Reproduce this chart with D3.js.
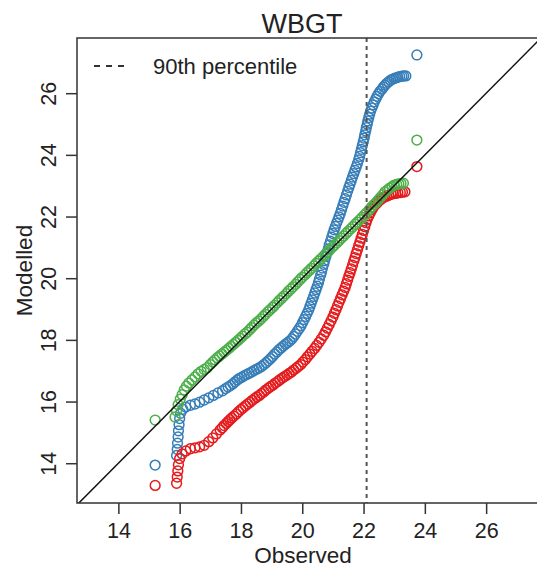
<!DOCTYPE html>
<html>
<head>
<meta charset="utf-8">
<script src="https://cdn.jsdelivr.net/npm/d3@7"></script>
<style>
  body { margin: 0; background: #fff; }
  text { font-family: "Liberation Sans", Arial, Helvetica, sans-serif; fill: #222; }
</style>
</head>
<body>
<div id="container"></div>
<script>
// Observed vs modelled quantiles
var blue = [[15.20,13.94],[15.90,14.25],[15.92,14.45],[15.93,14.65],[15.95,14.85],[15.96,15.05],[15.98,15.25],
  [16.00,15.45],[16.03,15.62],[16.10,15.75],[16.20,15.82],[16.35,15.88],[16.50,15.92],[16.65,15.98],[16.80,16.05],
  [16.95,16.12],[17.10,16.20],[17.25,16.28],[17.40,16.35],[17.50,16.42],[17.58,16.47],[17.66,16.52],[17.74,16.58],
  [17.81,16.64],[17.88,16.70],[17.95,16.75],[18.03,16.79],[18.11,16.84],[18.19,16.88],[18.27,16.92],[18.35,16.96],
  [18.43,17.01],[18.51,17.05],[18.59,17.09],[18.67,17.14],[18.75,17.20],[18.82,17.26],[18.89,17.32],[18.96,17.39],
  [19.03,17.46],[19.10,17.54],[19.17,17.61],[19.24,17.68],[19.31,17.74],[19.38,17.80],[19.45,17.86],[19.52,17.91],
  [19.59,17.96],[19.66,18.03],[19.72,18.11],[19.78,18.19],[19.84,18.28],[19.90,18.37],[19.96,18.46],[20.01,18.56],
  [20.06,18.66],[20.11,18.76],[20.16,18.86],[20.21,18.97],[20.25,19.08],[20.29,19.19],[20.33,19.30],[20.37,19.41],
  [20.41,19.52],[20.45,19.63],[20.49,19.74],[20.53,19.86],[20.56,19.97],[20.60,20.10],[20.63,20.21],[20.66,20.33],
  [20.70,20.45],[20.73,20.57],[20.77,20.70],[20.81,20.83],[20.85,20.95],[20.88,21.08],[20.92,21.20],[20.96,21.33],
  [21.00,21.45],[21.04,21.57],[21.08,21.68],[21.12,21.78],[21.16,21.88],[21.20,21.99],[21.24,22.10],[21.28,22.22],
  [21.32,22.34],[21.36,22.46],[21.40,22.58],[21.44,22.70],[21.48,22.82],[21.52,22.94],[21.56,23.05],[21.60,23.17],
  [21.64,23.28],[21.68,23.39],[21.72,23.50],[21.76,23.61],[21.80,23.72],[21.84,23.84],[21.87,23.95],[21.90,24.07],
  [21.93,24.18],[21.96,24.30],[21.99,24.42],[22.02,24.54],[22.04,24.65],[22.07,24.77],[22.09,24.88],[22.12,24.99],
  [22.14,25.10],[22.17,25.21],[22.20,25.32],[22.23,25.42],[22.27,25.52],[22.31,25.62],[22.35,25.72],[22.40,25.81],
  [22.44,25.90],[22.49,25.98],[22.54,26.06],[22.60,26.13],[22.65,26.20],[22.70,26.26],[22.76,26.32],[22.82,26.37],
  [22.88,26.42],[22.94,26.45],[23.00,26.48],[23.06,26.50],[23.12,26.52],[23.18,26.54],[23.25,26.55],[23.31,26.56],
  [23.38,26.56],[23.74,27.24]];

var red = [[15.20,13.28],[15.90,13.35],[15.92,13.55],[15.94,13.75],[15.96,13.95],[16.00,14.15],[16.08,14.30],
  [16.20,14.40],[16.35,14.47],[16.50,14.50],[16.65,14.53],[16.80,14.58],[16.95,14.70],[17.08,14.82],[17.20,14.95],
  [17.32,15.08],[17.39,15.15],[17.45,15.22],[17.52,15.29],[17.58,15.35],[17.64,15.41],[17.70,15.47],[17.77,15.53],
  [17.85,15.60],[17.92,15.67],[18.00,15.74],[18.07,15.80],[18.15,15.86],[18.22,15.92],[18.30,15.98],[18.37,16.04],
  [18.45,16.10],[18.52,16.15],[18.60,16.20],[18.67,16.26],[18.75,16.32],[18.82,16.38],[18.90,16.44],[18.97,16.49],
  [19.05,16.54],[19.12,16.60],[19.20,16.65],[19.27,16.71],[19.35,16.76],[19.42,16.81],[19.50,16.86],[19.57,16.91],
  [19.65,16.96],[19.72,17.02],[19.80,17.08],[19.87,17.14],[19.95,17.20],[20.02,17.28],[20.10,17.36],[20.17,17.45],
  [20.25,17.54],[20.32,17.63],[20.40,17.72],[20.47,17.82],[20.55,17.92],[20.62,18.03],[20.70,18.15],[20.76,18.26],
  [20.82,18.38],[20.88,18.50],[20.94,18.62],[21.00,18.74],[21.05,18.86],[21.10,18.98],[21.15,19.10],[21.20,19.22],
  [21.25,19.34],[21.30,19.46],[21.35,19.58],[21.40,19.70],[21.44,19.82],[21.48,19.94],[21.52,20.06],[21.56,20.18],
  [21.60,20.30],[21.64,20.42],[21.68,20.55],[21.72,20.67],[21.76,20.80],[21.80,20.92],[21.84,21.05],[21.88,21.17],
  [21.92,21.30],[21.96,21.42],[22.00,21.55],[22.04,21.67],[22.08,21.80],[22.12,21.91],[22.17,22.02],[22.22,22.12],
  [22.27,22.22],[22.32,22.30],[22.38,22.38],[22.44,22.44],[22.50,22.50],[22.56,22.55],[22.62,22.60],[22.68,22.63],
  [22.75,22.66],[22.82,22.69],[22.90,22.72],[22.97,22.74],[23.05,22.75],[23.12,22.77],[23.20,22.78],[23.27,22.79],
  [23.35,22.80],[23.74,23.62]];

var green = [[15.20,15.40],[15.85,15.50],[15.90,15.70],[15.95,15.90],[16.02,16.08],[16.08,16.22],[16.15,16.38],
  [16.22,16.50],[16.30,16.60],[16.40,16.70],[16.50,16.80],[16.60,16.90],[16.70,16.98],[16.80,17.04],[16.90,17.10],
  [17.00,17.20],[17.08,17.28],[17.15,17.35],[17.23,17.42],[17.30,17.48],[17.38,17.54],[17.45,17.60],[17.53,17.66],
  [17.60,17.72],[17.68,17.79],[17.75,17.85],[17.83,17.92],[17.90,17.98],[17.98,18.05],[18.05,18.12],[18.13,18.19],
  [18.20,18.25],[18.28,18.33],[18.35,18.40],[18.43,18.48],[18.50,18.55],[18.58,18.61],[18.65,18.68],[18.73,18.76],
  [18.80,18.83],[18.88,18.91],[18.95,18.98],[19.03,19.05],[19.10,19.12],[19.18,19.20],[19.25,19.28],[19.33,19.35],
  [19.40,19.42],[19.48,19.50],[19.55,19.58],[19.63,19.65],[19.70,19.72],[19.78,19.80],[19.85,19.88],[19.93,19.96],
  [20.00,20.03],[20.08,20.10],[20.15,20.18],[20.23,20.25],[20.30,20.32],[20.38,20.40],[20.45,20.48],[20.53,20.55],
  [20.60,20.62],[20.68,20.70],[20.75,20.77],[20.83,20.85],[20.90,20.92],[20.98,21.00],[21.05,21.07],[21.13,21.15],
  [21.20,21.22],[21.28,21.30],[21.35,21.37],[21.43,21.45],[21.50,21.52],[21.58,21.60],[21.65,21.67],[21.73,21.75],
  [21.80,21.82],[21.88,21.90],[21.95,21.97],[22.03,22.05],[22.10,22.12],[22.18,22.21],[22.25,22.30],[22.33,22.38],
  [22.40,22.45],[22.48,22.54],[22.55,22.62],[22.63,22.71],[22.70,22.80],[22.78,22.86],[22.85,22.92],[22.93,22.97],
  [23.00,23.02],[23.08,23.04],[23.15,23.06],[23.22,23.07],[23.30,23.08],[23.74,24.48]];

var series = [
  { name: "blue", color: "#377eb8", values: blue },
  { name: "red", color: "#e41a1c", values: red },
  { name: "green", color: "#4daf4a", values: green }
];

var ticks = [14, 16, 18, 20, 22, 24, 26];
var p90 = 22.1;
var legendLabel = "90th percentile";

// SVG dimensions
var width = 537,
    height = 570;
var pLeft = 77, pRight = 541, pTop = 38, pBottom = 503;

var svg = d3.select("#container")
    .append("svg")
    .attr("width", width)
    .attr("height", height);

// Scales
var xScale = d3.scaleLinear()
    .domain([12.65, 27.79])
    .range([pLeft, pRight]);
var yScale = d3.scaleLinear()
    .domain([12.71, 27.79])
    .range([pBottom, pTop]);

svg.append("clipPath")
    .attr("id", "plot")
    .append("rect")
    .attr("x", pLeft)
    .attr("y", pTop)
    .attr("width", pRight - pLeft)
    .attr("height", pBottom - pTop);

var plot = svg.append("g").attr("clip-path", "url(#plot)");

// Points, one series after the other
series.forEach(function(s) {
    plot.selectAll(".pt-" + s.name)
        .data(s.values)
        .enter()
        .append("circle")
        .attr("class", "pt-" + s.name)
        .attr("cx", function(d) { return xScale(d[0]); })
        .attr("cy", function(d) { return yScale(d[1]); })
        .attr("r", 4.9)
        .attr("fill", "none")
        .attr("stroke", s.color)
        .attr("stroke-width", 1.5);
});

// 1:1 line
plot.append("line")
    .attr("x1", xScale(12.65))
    .attr("y1", yScale(12.65))
    .attr("x2", xScale(27.79))
    .attr("y2", yScale(27.79))
    .attr("stroke", "#111")
    .attr("stroke-width", 1.5);

// 90th percentile of observed
plot.append("line")
    .attr("x1", xScale(p90))
    .attr("x2", xScale(p90))
    .attr("y1", pTop)
    .attr("y2", pBottom)
    .attr("stroke", "#555")
    .attr("stroke-width", 2)
    .attr("stroke-dasharray", "4,4");

// Frame (right side is off the picture)
svg.append("path")
    .attr("d", "M" + pRight + "," + pTop + "H" + pLeft + "V" + pBottom + "H" + pRight)
    .attr("fill", "none")
    .attr("stroke", "#333")
    .attr("stroke-width", 1.5);

// Axes
var xAxis = svg.append("g")
    .attr("transform", "translate(0," + pBottom + ")")
    .call(d3.axisBottom(xScale).tickValues(ticks).tickSize(11).tickPadding(8));
var yAxis = svg.append("g")
    .attr("transform", "translate(" + pLeft + ",0)")
    .call(d3.axisLeft(yScale).tickValues(ticks).tickSize(11).tickPadding(8));

[xAxis, yAxis].forEach(function(a) {
    a.select(".domain").remove();
    a.selectAll(".tick line").attr("stroke", "#333").attr("stroke-width", 1.5);
    a.selectAll(".tick text")
        .style("font-family", '"Liberation Sans", Arial, sans-serif')
        .style("font-size", "21.5px")
        .attr("fill", "#222");
});
xAxis.selectAll(".tick text").attr("y", 20).attr("dy", "0.71em");
yAxis.selectAll(".tick text")
    .attr("x", null).attr("dy", null)
    .attr("text-anchor", "middle")
    .attr("transform", "translate(-21,0) rotate(-90)");

// Titles
svg.append("text")
    .attr("x", 302)
    .attr("y", 33)
    .attr("text-anchor", "middle")
    .style("font-size", "27px")
    .text("WBGT");
svg.append("text")
    .attr("x", 303)
    .attr("y", 563)
    .attr("text-anchor", "middle")
    .style("font-size", "22.5px")
    .text("Observed");
svg.append("text")
    .attr("transform", "translate(32," + ((pTop + pBottom) / 2) + ") rotate(-90)")
    .attr("text-anchor", "middle")
    .style("font-size", "22.5px")
    .text("Modelled");

// Legend
svg.append("line")
    .attr("x1", 94)
    .attr("x2", 128)
    .attr("y1", 66)
    .attr("y2", 66)
    .attr("stroke", "#333")
    .attr("stroke-width", 1.8)
    .attr("stroke-dasharray", "6,6");
svg.append("text")
    .attr("x", 153)
    .attr("y", 74)
    .style("font-size", "22px")
    .text(legendLabel);
</script>
</body>
</html>
